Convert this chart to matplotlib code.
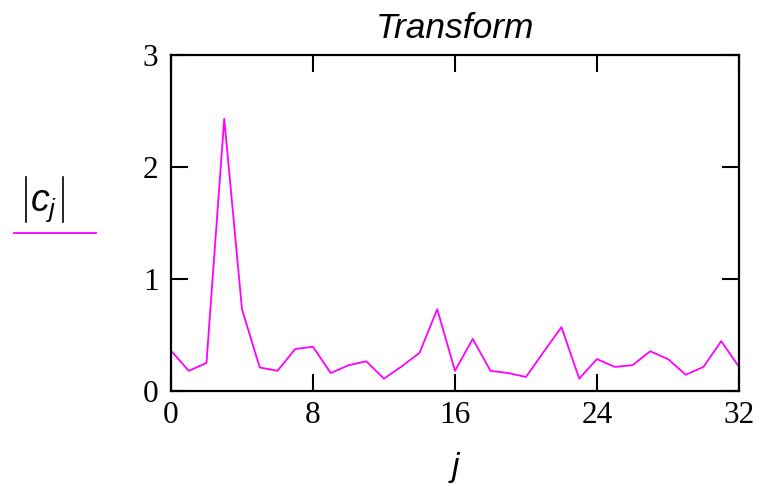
import matplotlib
matplotlib.use("Agg")
import matplotlib.pyplot as plt
from matplotlib.lines import Line2D

plt.rcParams["mathtext.fontset"] = "custom"
plt.rcParams["mathtext.it"] = "Liberation Sans:italic"
plt.rcParams["mathtext.rm"] = "Liberation Sans"

# |c_j| values, j = 0..32
j = list(range(33))
cj = [0.36, 0.18, 0.25, 2.43, 0.73, 0.21, 0.18, 0.375, 0.395, 0.16,
      0.23, 0.265, 0.11, 0.22, 0.34, 0.73, 0.18, 0.465, 0.18, 0.16,
      0.125, 0.35, 0.57, 0.11, 0.285, 0.215, 0.23, 0.355, 0.285, 0.145,
      0.215, 0.445, 0.215]

xticks = [0, 8, 16, 24, 32]
yticks = [0, 1, 2, 3]

magenta = "#ff00ff"

fig = plt.figure(figsize=(7.65, 4.86), dpi=100)
ax = fig.add_axes([0.2235, 0.1955, 0.7425, 0.6914])

ax.plot(j, cj, color=magenta, lw=1.3)

ax.set_xlim(0, 32)
ax.set_ylim(0, 3)
ax.set_xticks(xticks)
ax.set_yticks(yticks)
ax.set_xticklabels([str(t) for t in xticks], family="Liberation Serif", fontsize=22.5)
ax.set_yticklabels([str(t) for t in yticks], family="Liberation Serif", fontsize=22.5)
ax.tick_params(axis="x", pad=7)
ax.tick_params(axis="y", pad=9)
ax.tick_params(direction="in", length=12, width=1.5, top=True, right=True)
for s in ax.spines.values():
    s.set_linewidth(1.6)

ax.set_title("Transform", family="Liberation Sans", style="italic", fontsize=25.5, pad=12)
ax.set_xlabel("j", family="Liberation Sans", style="italic", fontsize=24, labelpad=16)

# legend-style label on the left: thin tall bars around c_j
fig.text(0.0575, 0.576, r"$c_j$", fontsize=27, ha="center", va="center")
for xb in (0.034, 0.082):
    fig.add_artist(Line2D([xb, xb], [0.543, 0.636], color="black", lw=1.2,
                          transform=fig.transFigure))
fig.add_artist(Line2D([0.018, 0.125], [0.5206, 0.5206], color=magenta, lw=1.3,
                      transform=fig.transFigure))

fig.savefig("out.png", dpi=100)
